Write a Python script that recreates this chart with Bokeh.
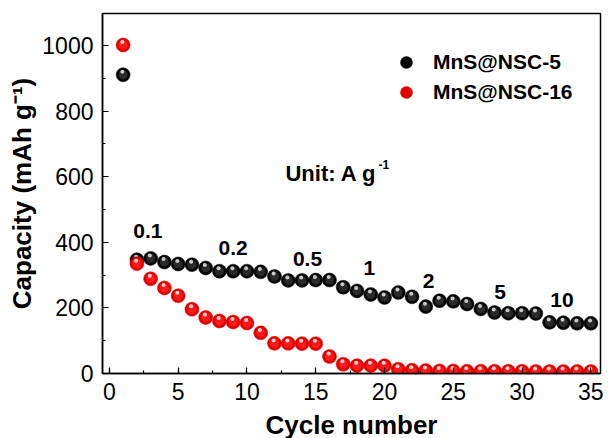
from bokeh.plotting import figure
from bokeh.models import (Range1d, SingleIntervalTicker, Legend, LegendItem, Label,
                          ColumnDataSource)
from bokeh.embed import file_html
from bokeh.resources import INLINE

# Rate-capability data (capacity in mAh/g per cycle)
cycles = list(range(1, 36))
nsc5 = [911, 347, 351, 340, 334, 332, 322, 312, 312, 312, 310, 296, 284, 284, 285,
        285, 263, 252, 241, 232, 247, 234, 204, 222, 220, 212, 197, 186, 184, 184,
        183, 156, 155, 153, 153]
nsc16 = [1002, 335, 289, 261, 237, 196, 171, 160, 157, 154, 124, 92, 92, 91, 91,
         52, 28, 24, 24, 24, 13, 10, 9, 8, 8, 7, 7, 7, 7, 7,
         6, 6, 6, 6, 6]

# Current-density annotations (A/g) and where they sit
rate_labels = ["0.1", "0.2", "0.5", "1", "2", "5", "10"]
rate_x = [2.8, 9.0, 14.4, 18.9, 23.2, 28.4, 32.9]
rate_y = [435, 382, 349, 321, 283, 250, 224]

FONT = "Liberation Sans"

p = figure(width=614, height=438, output_backend="svg", toolbar_location=None,
           x_range=Range1d(-0.5, 35.7), y_range=Range1d(0, 1098),
           min_border_left=102, min_border_right=14, min_border_top=13, min_border_bottom=65)
p.frame_width = 498
p.frame_height = 360
p.grid.visible = False
p.outline_line_color = "black"
p.outline_line_width = 1.5
p.background_fill_color = "white"
p.border_fill_color = "white"

p.xaxis.ticker = SingleIntervalTicker(interval=5, num_minor_ticks=2)
p.yaxis.ticker = SingleIntervalTicker(interval=200, num_minor_ticks=2)
for ax in (p.xaxis[0], p.yaxis[0]):
    ax.axis_line_color = "black"
    ax.axis_line_width = 1.5
    ax.major_tick_in = 6
    ax.major_tick_out = 0
    ax.minor_tick_in = 3
    ax.minor_tick_out = 0
    ax.major_tick_line_width = 1.2
    ax.minor_tick_line_width = 1.2
    ax.major_label_text_font = FONT
    ax.major_label_text_font_size = "23px"
    ax.major_label_text_color = "black"
    ax.axis_label_text_font = FONT
    ax.axis_label_text_font_size = "26px"
    ax.axis_label_text_font_style = "bold"
    ax.axis_label_text_color = "black"
p.xaxis.axis_label = "Cycle number"
p.yaxis.axis_label = "Capacity (mAh g\u207b\u00b9)"
p.xaxis.major_label_standoff = 9
p.yaxis.major_label_standoff = 9
p.xaxis.axis_label_standoff = 7
p.yaxis.axis_label_standoff = 2


def spheres(y, base, mid, hi):
    """Shaded ball markers: body, inner tone and a small highlight."""
    src = ColumnDataSource(dict(
        x=cycles, y=y,
        hx=[c - 0.06 for c in cycles], hy=[v + 9 for v in y]))
    r1 = p.scatter("x", "y", source=src, size=14, fill_color=base, line_color=base,
                   line_width=0.5)
    p.scatter("x", "y", source=src, size=9, fill_color=mid, line_color=None)
    p.scatter("hx", "hy", source=src, size=4, fill_color=hi, line_color=None)
    return r1


black = spheres(nsc5, "#050505", "#2a2a2a", "#c8c8c8")
red = spheres(nsc16, "#e00000", "#ff1a1a", "#ffd0d0")


def legend_row(label, renderer, loc):
    return Legend(items=[LegendItem(label=label, renderers=[renderer])],
                  location=loc, padding=0, margin=0, spacing=0,
                  glyph_width=30, glyph_height=30, label_height=30, label_standoff=12,
                  border_line_alpha=0, background_fill_alpha=0,
                  label_text_font=FONT, label_text_font_size="21px",
                  label_text_font_style="bold", label_text_color="black")


p.add_layout(legend_row("MnS@NSC-5", black, (289, 296)))
p.add_layout(legend_row("MnS@NSC-16", red, (289, 266)))

for t, x, y in zip(rate_labels, rate_x, rate_y):
    p.add_layout(Label(x=x, y=y, text=t, text_align="center", text_baseline="middle",
                       text_font=FONT, text_font_size="21px", text_font_style="bold",
                       text_color="black"))

p.add_layout(Label(x=12.8, y=609, text="Unit: A g", text_baseline="middle",
                   text_font=FONT, text_font_size="22px", text_font_style="bold",
                   text_color="black"))
p.add_layout(Label(x=12.8, y=609, x_offset=93, y_offset=9, text="-1",
                   text_baseline="middle", text_font=FONT, text_font_size="12px",
                   text_font_style="bold", text_color="black"))

open("out.html", "w").write(file_html(p, INLINE))
